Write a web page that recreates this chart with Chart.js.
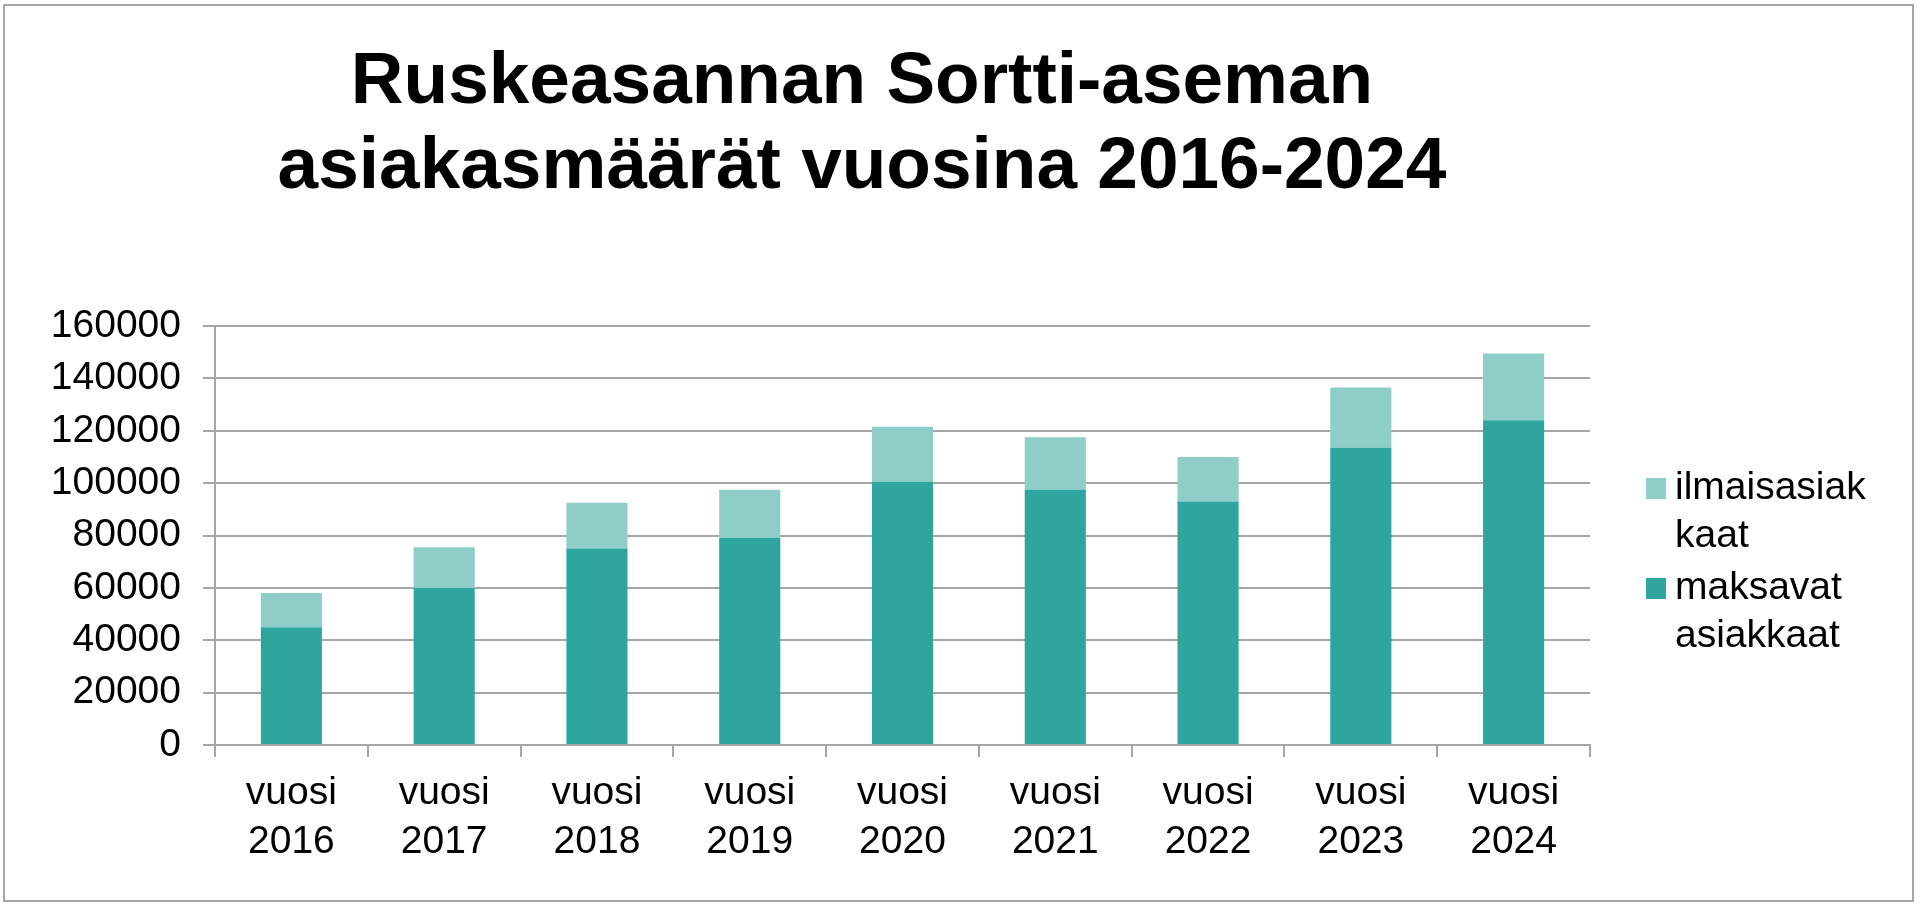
<!DOCTYPE html>
<html lang="fi">
<head>
  <meta charset="UTF-8" />
  <title>Ruskeasannan Sortti-aseman asiakasmäärät</title>
  <script src="https://cdn.jsdelivr.net/npm/chart.js"></script>
  <style>
    html, body { margin: 0; padding: 0; background: #fff; }
    .wrap { position: absolute; left: 0; top: 0; width: 1920px; height: 906px; }
  </style>
</head>
<body>
  <div class="wrap"><canvas id="kaavio"></canvas></div>

  <script>
  // Data luettu kuvasta
  const vuodet = ['2016', '2017', '2018', '2019', '2020', '2021', '2022', '2023', '2024'];
  const maksavat = [45000, 60000, 75000, 79000, 100500, 97500, 93000, 113500, 124000];
  const ilmaiset = [13000, 15500, 17500, 18500, 21000, 20000, 17000, 23000, 25500];
  const otsikko = ['Ruskeasannan Sortti-aseman', 'asiakasmäärät vuosina 2016-2024'];
  const yMax = 160000;
  const yAskel = 20000;

  const TUMMA = '#2ea59f';
  const VAALEA = '#8ecdc8';
  const HARMAA = '#a6a6a6';
  const FONTTI = "'Liberation Sans', Arial, sans-serif";

  // kehys, otsikko ja selite piirretään itse
  const kehys = {
    id: 'kehys',
    afterDraw(chart) {
      const ctx = chart.ctx;
      ctx.save();
      ctx.strokeStyle = HARMAA;
      ctx.lineWidth = 2;
      ctx.strokeRect(4, 5, 1909, 896);

      ctx.fillStyle = '#000';
      ctx.font = 'bold 73px ' + FONTTI;
      ctx.textAlign = 'center';
      ctx.textBaseline = 'alphabetic';
      ctx.fillText(otsikko[0], 862, 103);
      ctx.fillText(otsikko[1], 862, 188);

      // selite: ylin sarja ensin
      ctx.font = '39px ' + FONTTI;
      ctx.textAlign = 'left';
      ctx.textBaseline = 'middle';
      const sarjat = chart.data.datasets.slice().reverse();
      let y = 488;
      sarjat.forEach(ds => {
        ctx.fillStyle = ds.backgroundColor;
        ctx.fillRect(1646, y - 10, 20, 21);
        ctx.fillStyle = '#000';
        ds.selite.forEach((rivi, i) => ctx.fillText(rivi, 1675, y + i * 48));
        y += ds.selite.length * 48 + 4;
      });
      ctx.restore();
    }
  };

  new Chart(document.getElementById('kaavio'), {
    type: 'bar',
    data: {
      labels: vuodet.map(v => ['vuosi', v]),
      datasets: [
        {
          label: 'maksavat asiakkaat',
          selite: ['maksavat', 'asiakkaat'],
          data: maksavat,
          backgroundColor: TUMMA,
          barPercentage: 0.4,
          categoryPercentage: 1.0
        },
        {
          label: 'ilmaisasiakkaat',
          selite: ['ilmaisasiak', 'kaat'],
          data: ilmaiset,
          backgroundColor: VAALEA,
          barPercentage: 0.4,
          categoryPercentage: 1.0
        }
      ]
    },
    plugins: [kehys],
    options: {
      responsive: true,
      maintainAspectRatio: false,
      animation: false,
      layout: { padding: { top: 326, right: 330, left: 0, bottom: 0 } },
      plugins: {
        legend: { display: false },
        title: { display: false },
        tooltip: { enabled: false }
      },
      scales: {
        x: {
          stacked: true,
          afterFit: s => { s.height = 161; },
          grid: { drawOnChartArea: false, color: HARMAA, lineWidth: 2, tickLength: 12 },
          border: { color: HARMAA, width: 2 },
          ticks: {
            color: '#000',
            font: { family: FONTTI, size: 39, lineHeight: 1.25 },
            padding: 12,
            maxRotation: 0
          }
        },
        y: {
          stacked: true,
          min: 0,
          max: yMax,
          afterFit: s => { s.width = 215; },
          grid: { color: HARMAA, lineWidth: 2, tickLength: 12 },
          border: { color: HARMAA, width: 2 },
          ticks: {
            stepSize: yAskel,
            color: '#000',
            padding: 22,
            font: { family: FONTTI, size: 39 },
            callback: v => String(v)
          }
        }
      }
    }
  });
  </script>
</body>
</html>
